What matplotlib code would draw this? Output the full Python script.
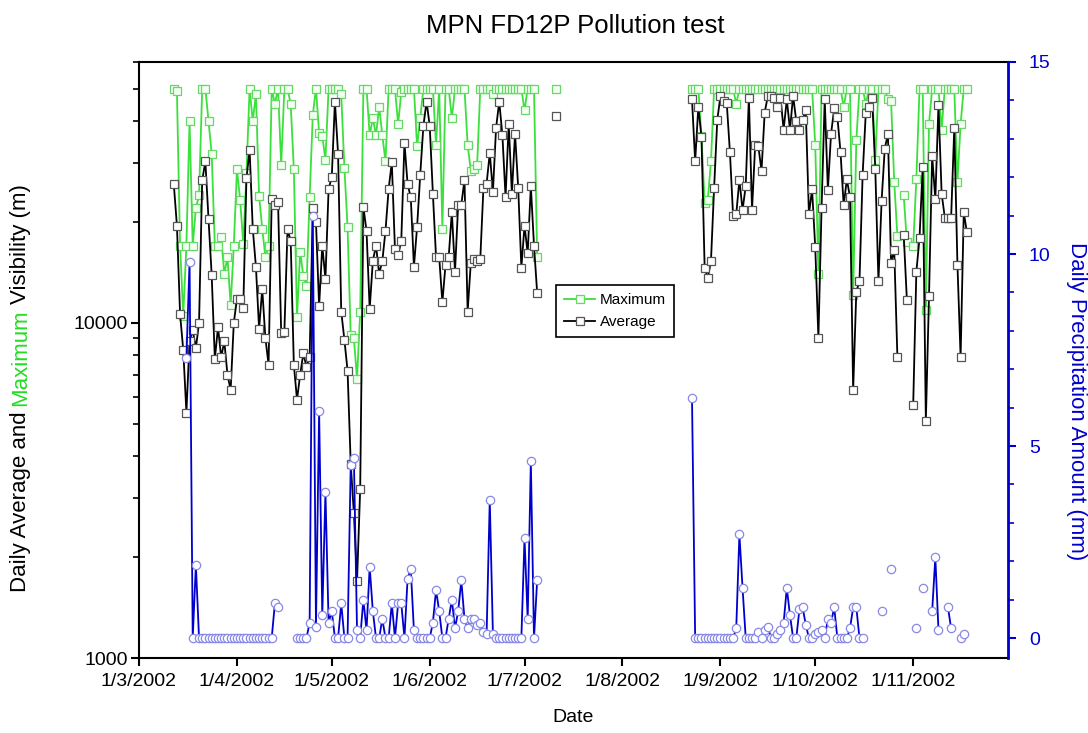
import numpy as np
import pandas as pd
import matplotlib
matplotlib.use('Agg')
import matplotlib.pyplot as plt
from matplotlib.ticker import LogLocator, FuncFormatter, MultipleLocator, NullFormatter, FixedLocator
import matplotlib.dates as mdates

plt.rcParams['font.family'] = ['Liberation Sans', 'DejaVu Sans']

nan = np.nan

# daily visibility, 12/3/2002 - 5/7/2002
spring_start = '2002-03-12'
avg_spring = [26000, 19500, 10600, 8300, 5400, 8800, 9500, 8400, 10000, 26600,
              30300, 20400, 13900, 7800, 9700, 7900, 8800, 7000, 6300, 10000,
              11800, 11800, 11100, 27000, 32800, 19100, 14700, 9600, 12600, 9000,
              7500, 23400, 22500, 23000, 9300, 9400, 19000, 17600, 7500, 5900,
              7000, 8100, 7400, 7900, 22000, 20000, 11200, 17000, 13500, 25100,
              27200, 45700, 31900, 10800, 8900, 7200, 3800, 2700, 1700, 3200,
              22200, 18800, 11000, 15300, 17000, 14000, 15300, 18800, 25100, 30100,
              16600, 15900, 17600, 34500, 25900, 23700, 14700, 19300, 27700, 38700,
              45700, 38700, 24300, 15700, 15700, 11500, 14900, 15700, 21400, 14200,
              22500, 22500, 26700, 10800, 15100, 15500, 15300, 15500, 25300, 26000,
              32100, 24600, 38200, 45700, 36300, 23700, 39200, 24300, 36700, 25300,
              14600, 19500, 16100, 25600, 17000, 12300]
max_spring = [50000, 49000, 17000, 10500, 17000, 40000, 17000, 22000, 24000, 50000,
              50000, 40000, 32000, 17000, 17000, 18000, 14000, 15700, 11300, 17000,
              28700, 23300, 17200, 28000, 50000, 40000, 48000, 23900, 19100, 15700,
              17000, 50000, 45000, 50000, 29500, 50000, 50000, 45000, 28800, 10400,
              16300, 13800, 12900, 23700, 41700, 50000, 36800, 36000, 30700, 50000,
              50000, 50000, 50000, 48000, 29000, 19300, 9200, 9000, 6800, 10800,
              50000, 50000, 36300, 40800, 36300, 44100, 36300, 30300, 50000, 50000,
              50000, 39200, 48800, 50000, 50000, 50000, 50000, 33600, 40800, 50000,
              50000, 50000, 50000, 34000, 50000, 19100, 50000, 50000, 40800, 50000,
              50000, 50000, 50000, 34000, 28400, 28800, 29500, 50000, 50000, 50000,
              50000, 48000, 50000, 50000, 50000, 50000, 50000, 50000, 50000, 50000,
              50000, 43000, 50000, 50000, 50000, 15700]

# single reading on 11/7/2002
lone_day = '2002-07-11'
lone_avg = 41300
lone_max = 50000

# daily visibility, 23/8/2002 - 18/11/2002
autumn_start = '2002-08-23'
avg_autumn = [46400, 30300, 44100, 35800, 14600, 13600, 15300, 25300, 40300, 47500,
              46000, 45200, 32300, 20900, 21100, 26700, 21700, 25600, 47000, 21700,
              34000, 33600, 28400, 42400, 47500, 47500, 47000, 44000, 47000, 37700,
              46400, 37700, 47500, 40000, 37700, 40300, 43100, 21100, 25000, 16800,
              9000, 22000, 46400, 24900, 36600, 43600, 41200, 32300, 22400, 26800,
              23700, 6300, 12400, 13300, 27700, 42400, 44100, 47000, 28800, 13300,
              23100, 33100, 36600, 15100, 16500, 7900, nan, 18300, 11700, nan,
              5700, 14200, 17900, 29200, 5100, 12000, 31500, 23400, 44700, 24300,
              20600, 20600, 20600, 38200, 14900, 7900, 21400, 18600]
max_autumn = [50000, 50000, 50000, 36000, 22800, 23300, 30300, 50000, 50000, 50000,
              50000, 50000, 50000, 50000, 45000, 50000, 50000, 50000, 50000, 50000,
              50000, 50000, 50000, 50000, 50000, 50000, 50000, 50000, 50000, 50000,
              50000, 50000, 50000, 50000, 50000, 50000, 50000, 50000, 50000, 34000,
              14000, 50000, 50000, 50000, 50000, 50000, 50000, 50000, 44000, 50000,
              50000, 12100, 35100, 50000, 50000, 45000, 50000, 50000, 30700, 50000,
              50000, 50000, 46400, 46000, 26300, 18100, nan, 24000, 17400, nan,
              16900, 26900, 50000, 50000, 10900, 39200, 50000, 50000, 50000, 37700,
              50000, 50000, 50000, 50000, 26300, 39200, 50000, 50000]

# daily precipitation (mm)
rain_spring_start = '2002-03-16'
rain_spring = [7.3, 9.8, 0, 1.9, 0,
               0, 0, 0, 0, 0, 0, 0, 0, 0, 0, 0, 0, 0, 0, 0, 0, 0, 0, 0, 0, 0, 0, 0,
               0.9, 0.8, nan, nan, nan, nan, nan, 0, 0, 0, 0,
               0.4, 11.0, 0.3, 5.9, 0.6, 3.8, 0.4,
               0.7, 0, 0, 0.9, 0, 0, 4.5, 4.7, 0.2, 0,
               1.0, 0.2, 1.85, 0.7, 0, 0, 0.5, 0, 0, 0.9,
               0, 0.9, 0.9, 0, 1.55, 1.8, 0.2, 0, 0, 0,
               0, 0, 0.4, 1.25, 0.7, 0, 0, 0.5, 1.0, 0.25,
               0.7, 1.5, 0.5, 0.25, 0.5, 0.5, 0.35, 0.4, 0.15, 0.1,
               3.6, 0.1, 0, 0, 0, 0, 0, 0, 0, 0,
               0, 2.6, 0.5, 4.6, 0, 1.5]
rain_autumn_start = '2002-08-23'
rain_autumn = [6.25, 0, 0, 0, 0, 0, 0, 0, 0, 0, 0, 0, 0, 0,
               0.25, 2.7, 1.3, 0, 0, 0, 0, 0.15, 0, 0.2,
               0.3, 0, 0, 0.1, 0.2, 0.4, 1.3, 0.6, 0, 0,
               0.75, 0.8, 0.35, 0, 0, 0.1, 0.15, 0.2, 0, 0.5,
               0.4, 0.8, 0, 0, 0, 0, 0.25, 0.8, 0.8, 0,
               0, nan, nan, nan, nan, nan, 0.7, nan, nan, 1.8,
               nan, nan, nan, nan, nan, nan, nan, 0.25, nan, 1.3,
               nan, nan, 0.7, 2.1, 0.2, nan, nan, 0.8, 0.25, nan,
               nan, 0, 0.1]

month_ticks = pd.date_range('2002-03-01', '2002-11-01', freq='MS')

green = '#3ce03c'
blue = '#0000cc'

W, H = 1088, 733
fig = plt.figure(figsize=(W / 100, H / 100), dpi=100)
ax = fig.add_axes([139 / W, 1 - 658 / H, (1008 - 139) / W, (658 - 62) / H])

sq_green = dict(color=green, lw=1.3, marker='s', ms=5.5, mfc='#f2fff2', mec='#66d866', mew=0.9)
sq_black = dict(color='black', lw=1.3, marker='s', ms=5.5, mfc='white', mec='#555555', mew=0.9)

d_spring = pd.date_range(spring_start, periods=len(avg_spring))
d_autumn = pd.date_range(autumn_start, periods=len(avg_autumn))

h_max, = ax.plot(d_spring, max_spring, **sq_green)
ax.plot(d_autumn, max_autumn, **sq_green)
ax.plot([pd.Timestamp(lone_day)], [lone_max], ls='none', **{k: v for k, v in sq_green.items() if k != 'lw'})
h_avg, = ax.plot(d_spring, avg_spring, **sq_black)
ax.plot(d_autumn, avg_autumn, **sq_black)
ax.plot([pd.Timestamp(lone_day)], [lone_avg], ls='none', **{k: v for k, v in sq_black.items() if k != 'lw'})

ax.set_yscale('log')
ax.set_ylim(1000, 60000)
ax.set_xlim(pd.Timestamp('2002-03-01'), pd.Timestamp('2002-12-01'))
ax.yaxis.set_major_locator(FixedLocator([1000, 10000]))
ax.yaxis.set_major_formatter(FuncFormatter(lambda v, p: f'{int(v)}'))
ax.yaxis.set_minor_locator(LogLocator(base=10, subs=np.arange(2, 10)))
ax.yaxis.set_minor_formatter(NullFormatter())
ax.xaxis.set_major_locator(FixedLocator(mdates.date2num(month_ticks)))
ax.xaxis.set_major_formatter(FuncFormatter(
    lambda v, p: '{0.day}/{0.month}/{0.year}'.format(mdates.num2date(v))))

ax.tick_params(axis='x', direction='out', length=6, width=1.5, labelsize=14, pad=5, top=False)
ax.tick_params(axis='y', which='major', direction='out', length=6, width=1.5, labelsize=14, pad=2, right=False)
ax.tick_params(axis='y', which='minor', direction='out', length=4, width=1.2, right=False)
for s in ['left', 'bottom', 'top']:
    ax.spines[s].set_linewidth(1.5)
ax.spines['right'].set_visible(False)

ax2 = ax.twinx()
ax2.plot(pd.date_range(rain_spring_start, periods=len(rain_spring)), rain_spring,
         color=blue, lw=1.3, marker='o', ms=6, mfc='white', mec='#8888e8', mew=0.9)
ax2.plot(pd.date_range(rain_autumn_start, periods=len(rain_autumn)), rain_autumn,
         color=blue, lw=1.3, marker='o', ms=6, mfc='white', mec='#8888e8', mew=0.9)
ax2.set_ylim(-0.52, 15)
ax2.yaxis.set_major_locator(MultipleLocator(5))
ax2.yaxis.set_minor_locator(MultipleLocator(1))
ax2.tick_params(axis='y', which='major', direction='out', length=6, width=1.5, colors=blue,
                labelsize=14, pad=9)
ax2.tick_params(axis='y', which='minor', direction='out', length=4, width=1.2, colors=blue)
for s in ['left', 'bottom', 'top']:
    ax2.spines[s].set_visible(False)
ax2.spines['right'].set_color(blue)
ax2.spines['right'].set_linewidth(2)

leg = ax.legend([h_max, h_avg], ['Maximum', 'Average'], loc='upper left',
                bbox_to_anchor=((556 - 139) / 869, (658 - 285) / 596), fontsize=11,
                fancybox=False, edgecolor='black', framealpha=1, handlelength=2.0,
                borderpad=0.55, labelspacing=0.5, handletextpad=0.3, borderaxespad=0)
leg.get_frame().set_linewidth(1.2)

fig.text(575 / W, 1 - 26 / H, 'MPN FD12P Pollution test', ha='center', va='center', fontsize=18.5)
fig.text(573 / W, 1 - 718 / H, 'Date', ha='center', va='center', fontsize=14)
fig.text(1076 / W, 1 - 401 / H, 'Daily Precipitation Amount (mm)', rotation=-90,
         ha='center', va='center', fontsize=16, color=blue)

# left label with the word Maximum in green, running bottom to top
parts = [('Daily Average and', 'black'), ('Maximum', '#22dd22'), ('Visibility (m)', 'black')]
r = fig.canvas.get_renderer()
texts = [fig.text(0, 0, s, rotation=90, ha='center', va='bottom', fontsize=16, color=c)
         for s, c in parts]
gap = 5
hs = [t.get_window_extent(r).height for t in texts]
y0 = 388 + (sum(hs) + gap * (len(hs) - 1)) / 2
for t, h in zip(texts, hs):
    t.set_position((21 / W, 1 - y0 / H))
    y0 -= h + gap

fig.savefig('out.png', dpi=100)
